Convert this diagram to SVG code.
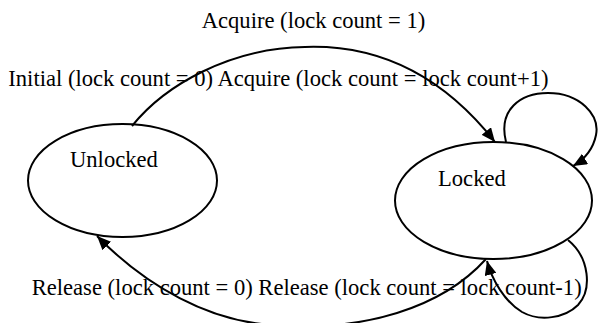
<svg xmlns="http://www.w3.org/2000/svg" width="598" height="323" viewBox="0 0 598 323">
<style>
text{font-family:"Liberation Serif","Times New Roman",serif;font-size:22.6px;fill:#000}
.node{fill:#fff;stroke:#000;stroke-width:2}
.edge{fill:none;stroke:#000;stroke-width:2;marker-end:url(#arr)}
</style>
<defs>
<marker id="arr" markerWidth="14" markerHeight="12" refX="14" refY="6" orient="auto" markerUnits="userSpaceOnUse">
<path d="M0,0 L14,6 L0,12 Z" fill="#000"/>
</marker>
</defs>
<rect width="598" height="323" fill="#fff"/>
<g id="unlocked">
<ellipse class="node" cx="122.5" cy="180.5" rx="94.5" ry="56.5"/>
<text x="70" y="167">Unlocked</text>
</g>
<g id="locked">
<ellipse class="node" cx="493.5" cy="200.5" rx="98.5" ry="58.5"/>
<text x="438" y="186">Locked</text>
</g>
<g id="connectors">
<path class="edge" d="M132,126 C165,85 230,48 305,47 C390,44 450,85 495,142"/>
<path class="edge" d="M506,142 C498,110 520,93 548,93 C580,93 600,115 596,135 C593,150 585,159 573,166"/>
<path class="edge" d="M568,240 C590,258 592,290 578,305 C565,318 540,322 522,312 C505,302 492,280 487,261"/>
<path class="edge" d="M486,259 C440,310 360,330 290,325 C210,328 140,280 97,236"/>
</g>
<g id="labels">
<text x="201.7" y="28.3">Acquire (lock count = 1)</text>
<text x="8.3" y="85.5">Initial (lock count = 0) Acquire (lock count = lock count+1)</text>
<text x="31.7" y="294.5">Release (lock count = 0) Release (lock count = lock count-1)</text>
</g>
</svg>
